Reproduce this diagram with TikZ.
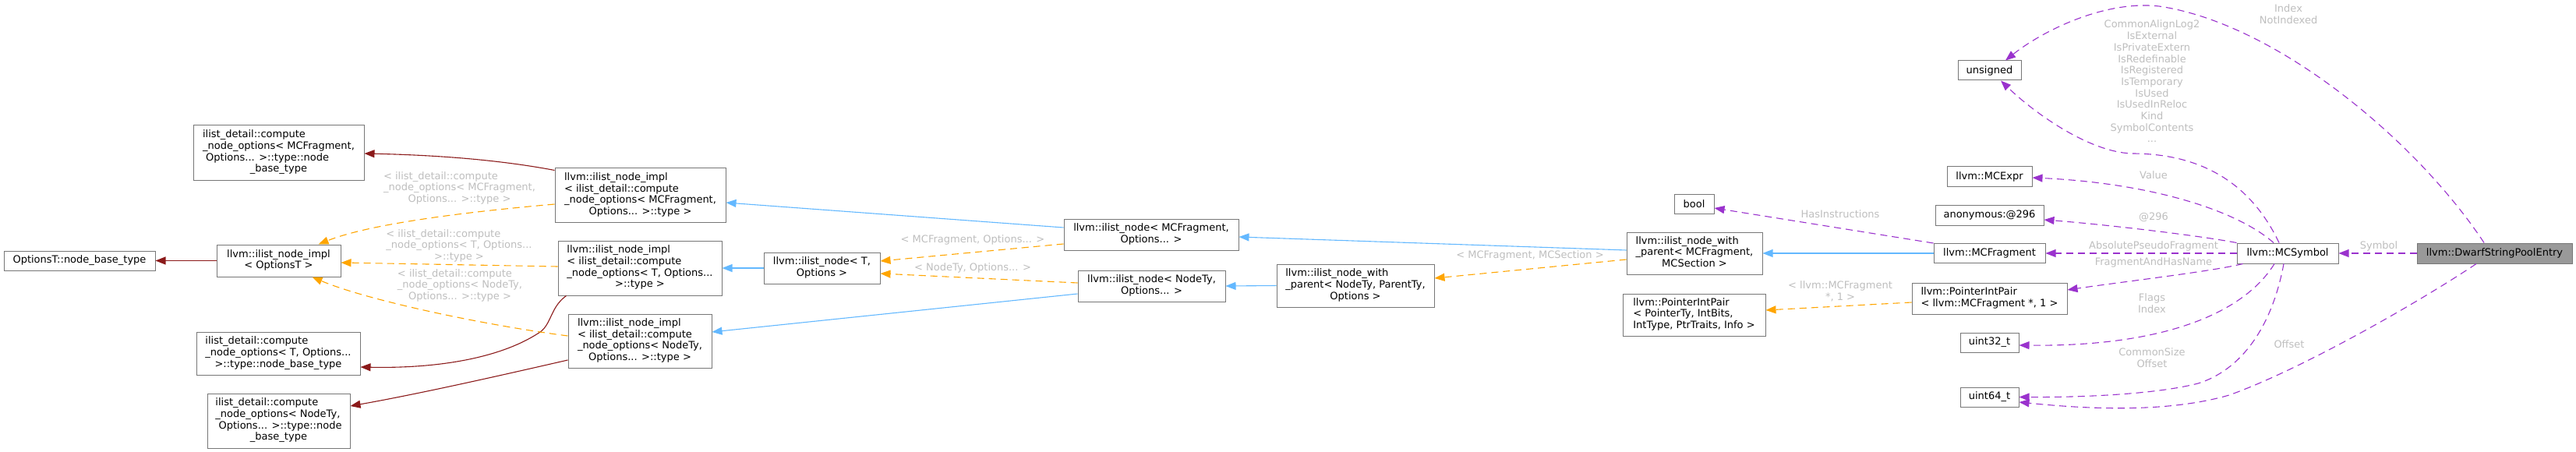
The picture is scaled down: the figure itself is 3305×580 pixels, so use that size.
\documentclass[tikz,border=0pt]{standalone}
\usepackage{fontspec}
\setmainfont{DejaVu Sans}
\usetikzlibrary{arrows.meta}
\definecolor{nodegray}{HTML}{777777}
\definecolor{nodefill}{HTML}{999999}
\definecolor{labelgray}{HTML}{BEBEBE}
\definecolor{inhblue}{HTML}{63B8FF}
\definecolor{tmplorange}{HTML}{FFA500}
\definecolor{basered}{HTML}{8B1A1A}
\definecolor{usepurple}{HTML}{9A32CD}

% left aligned lines, last line centred
\newcommand{\dlines}[2]{\begin{tabular}{@{}l@{}}#1\\\multicolumn{1}{@{}c@{}}{#2}\end{tabular}}

\tikzset{
  cls/.style={draw=nodegray, fill=white, line width=1pt, inner sep=0pt,
    font=\fontsize{13pt}{14.7pt}\selectfont},
  hilite/.style={cls, fill=nodefill},
  lbl/.style={text=labelgray, inner sep=0pt, align=center,
    font=\fontsize{13pt}{14.7pt}\selectfont},
  conn/.style={line width=1.1pt, -{Triangle[length=13pt,width=10pt]}},
  inh/.style={conn, inhblue},
  basety/.style={conn, basered},
  tmpl/.style={conn, tmplorange, dash pattern=on 9pt off 6pt},
  usage/.style={conn, usepurple, dash pattern=on 9pt off 6pt}
}

\begin{document}
\begin{tikzpicture}[x=1pt, y=-1pt]
\useasboundingbox (0,0) rectangle (3305,580);

% base type column
\node[cls, minimum width=194pt, minimum height=25pt] (optbase) at (102,334.5) {OptionsT::node\_base\_type};
\node[cls, minimum width=219pt, minimum height=70pt] (mcfbase) at (357.5,196) {\dlines{ilist\_detail::compute\\\_node\_options< MCFragment,\\\ Options... >::type::node}{\_base\_type}};
\node[cls, minimum width=159pt, minimum height=41pt] (implopt) at (357.5,334.5) {\dlines{llvm::ilist\_node\_impl}{< OptionsT >}};
\node[cls, minimum width=210pt, minimum height=55pt] (tbase) at (357,453.5) {\dlines{ilist\_detail::compute\\\_node\_options< T, Options...}{>::type::node\_base\_type}};
\node[cls, minimum width=183pt, minimum height=70pt] (ntbase) at (357.5,540) {\dlines{ilist\_detail::compute\\\_node\_options< NodeTy,\\\ Options... >::type::node}{\_base\_type}};

% ilist_node_impl instances
\node[cls, minimum width=219pt, minimum height=69pt] (implmcf) at (821.5,250.5) {\dlines{llvm::ilist\_node\_impl\\< ilist\_detail::compute\\\_node\_options< MCFragment,}{Options... >::type >}};
\node[cls, minimum width=210pt, minimum height=70pt] (implt) at (821,344) {\dlines{llvm::ilist\_node\_impl\\< ilist\_detail::compute\\\_node\_options< T, Options...}{>::type >}};
\node[cls, minimum width=184pt, minimum height=69pt] (implnt) at (821,437.5) {\dlines{llvm::ilist\_node\_impl\\< ilist\_detail::compute\\\_node\_options< NodeTy,}{Options... >::type >}};

% ilist_node
\node[cls, minimum width=149pt, minimum height=40pt] (nodet) at (1054.5,344) {\dlines{llvm::ilist\_node< T,}{Options >}};
\node[cls, minimum width=224pt, minimum height=40pt] (nodemcf) at (1477,301) {\dlines{llvm::ilist\_node< MCFragment,}{Options... >}};
\node[cls, minimum width=189pt, minimum height=40pt] (nodent) at (1477.5,367) {\dlines{llvm::ilist\_node< NodeTy,}{Options... >}};
\node[cls, minimum width=202pt, minimum height=55pt] (wpnt) at (1739,366.5) {\dlines{llvm::ilist\_node\_with\\\_parent< NodeTy, ParentTy,}{Options >}};

% next column
\node[cls, minimum width=51pt, minimum height=25pt] (boolty) at (2173.5,261.5) {bool};
\node[cls, minimum width=174pt, minimum height=54pt] (wpmcf) at (2174,325) {\dlines{llvm::ilist\_node\_with\\\_parent< MCFragment,}{MCSection >}};
\node[cls, minimum width=183pt, minimum height=54pt] (pipgen) at (2173.5,404) {\dlines{llvm::PointerIntPair\\< PointerTy, IntBits,}{IntType, PtrTraits, Info >}};

% member types of MCSymbol
\node[cls, minimum width=81pt, minimum height=25pt] (unsig) at (2552.5,90.5) {unsigned};
\node[cls, minimum width=109pt, minimum height=25pt] (mcexpr) at (2552.5,226.5) {llvm::MCExpr};
\node[cls, minimum width=139pt, minimum height=26pt] (anon) at (2552.5,276) {anonymous:@296};
\node[cls, minimum width=143pt, minimum height=25pt] (mcfrag) at (2552.5,325) {llvm::MCFragment};
\node[cls, minimum width=199pt, minimum height=40pt] (pipmcf) at (2552.5,383) {\dlines{llvm::PointerIntPair}{< llvm::MCFragment *, 1 >}};
\node[cls, minimum width=75pt, minimum height=25pt] (u32) at (2552.5,439.5) {uint32\_t};
\node[cls, minimum width=75pt, minimum height=25pt] (u64) at (2552.5,509.5) {uint64\_t};

\node[cls, minimum width=130pt, minimum height=26pt] (mcsym) at (2935,325) {llvm::MCSymbol};
\node[hilite, minimum width=199pt, minimum height=26pt] (dwarf) at (3200.5,325) {llvm::DwarfStringPoolEntry};

% base types
\draw[basety] (implopt.west) -- (optbase.east);
\draw[basety] ([yshift=-3pt]implmcf.north west) .. controls (640,205) and (560,199) .. ([yshift=-1pt]mcfbase.east);
\draw[basety] ([xshift=11pt]implt.south west) .. controls (705,395) and (708,418) .. (690,428) .. controls (640,460) and (560,473) .. ([yshift=-17.5pt]tbase.east);
\draw[basety] ([yshift=-24.5pt]implnt.west) .. controls (650,480) and (540,505) .. ([yshift=19pt]ntbase.east);

% template instances
\draw[tmpl] ([yshift=-11.5pt]implmcf.west) .. controls (620,270) and (480,285) .. ([xshift=-29pt]implopt.north east);
\draw[tmpl] ([yshift=2pt]implt.west) -- ([yshift=-2.5pt]implopt.east);
\draw[tmpl] ([yshift=6.5pt]implnt.west) .. controls (620,417) and (470,385) .. ([xshift=-37pt]implopt.south east);
\draw[tmpl] ([yshift=-12pt]nodemcf.west) -- ([yshift=9pt]nodet.east);
\draw[tmpl] ([yshift=4pt]nodent.west) -- ([yshift=-7pt]nodet.east);
\draw[tmpl] ([yshift=-8pt]wpmcf.west) -- ([yshift=9.5pt]wpnt.east);
\draw[tmpl] ([yshift=-5pt]pipmcf.west) -- ([yshift=6pt]pipgen.east);

\node[lbl] (limplmcf) at (589.5,242) {\dlines{< ilist\_detail::compute\\\_node\_options< MCFragment,}{Options... >::type >}};
\node[lbl] (limplt) at (589,316) {\dlines{< ilist\_detail::compute\\\_node\_options< T, Options...}{>::type >}};
\node[lbl] (limplnt) at (590,367) {\dlines{< ilist\_detail::compute\\\_node\_options< NodeTy,}{Options... >::type >}};
\node[lbl] (lnodemcf) at (1248,308) {< MCFragment, Options... >};
\node[lbl] (lnodent) at (1248,344) {< NodeTy, Options... >};
\node[lbl] (lwpmcf) at (1963,328) {< MCFragment, MCSection >};
\node[lbl] (lpipmcf) at (2361,374) {< llvm::MCFragment\\*, 1 >};

% inheritance
\draw[inh] (nodet.west) -- (implt.east);
\draw[inh] ([yshift=9pt]nodemcf.west) -- ([yshift=-9.5pt]implmcf.east);
\draw[inh] ([yshift=-10pt]nodent.west) -- ([yshift=11.5pt]implnt.east);
\draw[inh] (wpnt.west) -- (nodent.east);
\draw[inh] ([yshift=4pt]wpmcf.west) -- ([yshift=-3pt]nodemcf.east);
\draw[inh] (mcfrag.west) -- (wpmcf.east);

% usage
\draw[usage] (mcfrag.north west) -- ([yshift=-5.5pt]boolty.east);
\draw[usage] ([xshift=-11pt]mcsym.north) .. controls (2890,240) and (2830,197) .. (2735,197) .. controls (2680,195) and (2610,145) .. ([xshift=14.5pt]unsig.south);
\draw[usage] ([xshift=-13.5pt]dwarf.north) .. controls (3100,180) and (2920,30) .. (2770,8) .. controls (2700,0) and (2620,40) .. ([xshift=20.5pt]unsig.north);
\draw[usage] ([xshift=-18pt]mcsym.north) .. controls (2870,270) and (2760,235) .. ([yshift=-1.5pt]mcexpr.east);
\draw[usage] (mcsym.north west) .. controls (2820,302) and (2700,288) .. ([yshift=-6pt]anon.east);
\draw[usage] (mcsym.west) -- (mcfrag.east);
\draw[usage] ([xshift=8pt]mcsym.south west) .. controls (2840,348) and (2720,362) .. ([yshift=11pt]pipmcf.east);
\draw[usage] ([xshift=-17pt]mcsym.south) .. controls (2880,400) and (2780,445) .. ([yshift=-3.5pt]u32.east);
\draw[usage] ([xshift=-5pt]mcsym.south) .. controls (2915,420) and (2875,475) .. (2820,492) .. controls (2770,505) and (2680,510) .. (u64.east);
\draw[usage] ([xshift=-23.5pt]dwarf.south) .. controls (3100,390) and (2950,475) .. (2860,507) .. controls (2780,530) and (2680,525) .. ([yshift=-6.5pt]u64.east);
\draw[usage] (dwarf.west) -- (mcsym.east);

\node[lbl] (lhas) at (2361,275) {HasInstructions};
\node[lbl] (lcommon) at (2761,104.5) {CommonAlignLog2\\IsExternal\\IsPrivateExtern\\IsRedefinable\\IsRegistered\\IsTemporary\\IsUsed\\IsUsedInReloc\\Kind\\SymbolContents\\...};
\node[lbl] (lindex) at (2936,18.5) {Index\\NotIndexed};
\node[lbl] (lvalue) at (2763,225) {Value};
\node[lbl] (lanon) at (2763,279) {@296};
\node[lbl] (labs) at (2763,316) {AbsolutePseudoFragment};
\node[lbl] (lfrag) at (2763,337) {FragmentAndHasName};
\node[lbl] (lflags) at (2761,389.5) {Flags\\Index};
\node[lbl] (lsize) at (2761,459.5) {CommonSize\\Offset};
\node[lbl] (loffset) at (2937,442) {Offset};
\node[lbl] (lsymbol) at (3052,316) {Symbol};

\end{tikzpicture}
\end{document}
